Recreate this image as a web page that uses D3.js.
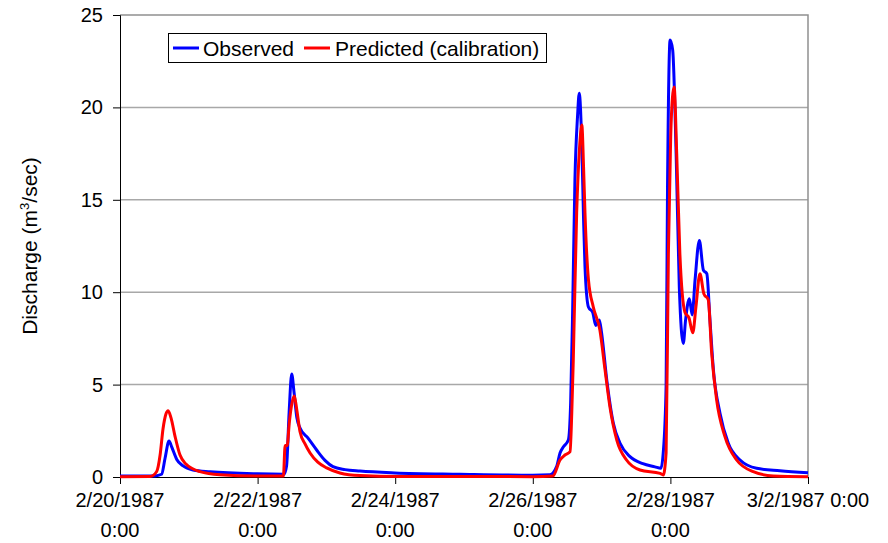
<!DOCTYPE html>
<html>
<head>
<meta charset="utf-8">
<script src="https://cdn.jsdelivr.net/npm/d3@7"></script>
<style>
  html, body { margin: 0; padding: 0; background: #fff; }
  svg { display: block; font-family: Arial, "Liberation Sans", sans-serif; }
</style>
</head>
<body>
<svg id="chart" width="888" height="543"></svg>
<script>
// Hours after 2/20/1987 0:00 and discharge (m3/sec)
const observedHours = [0, 12.2, 14.5, 15.7, 17.1, 18.1, 19.8, 22, 25.5, 31.4, 47.8, 57.2, 58.1, 59, 59.9, 60.7, 61.7, 62.8, 65.6, 68.6, 71.5, 74.3, 78.5, 83.7, 95.9, 118.6, 144, 150, 152.3, 153.5, 154.7, 156.4, 157.2, 157.9, 158.7, 159.6, 160.2, 161.1, 161.7, 162.2, 163.4, 164.9, 166, 167.2, 168, 169.8, 172.1, 174.4, 177.9, 182.4, 186.6, 188.7, 189.5, 190.5, 191, 191.9, 192.8, 194, 195.1, 196.5, 197.3, 198.6, 199.6, 200.6, 202.1, 203.5, 204.7, 205.8, 207, 209.3, 212.2, 216.3, 222.1, 230.2, 240];
const observedFlow = [0.05, 0.06, 0.15, 1.0, 1.95, 1.6, 0.95, 0.6, 0.38, 0.28, 0.17, 0.15, 0.6, 3.5, 5.57, 4.6, 3.2, 2.65, 2.1, 1.46, 0.9, 0.56, 0.4, 0.32, 0.22, 0.15, 0.1, 0.12, 0.56, 1.3, 1.64, 2.0, 4.0, 9.0, 16.1, 19.5, 20.76, 17.9, 14.0, 11.4, 9.2, 8.9, 8.2, 8.5, 7.8, 5.25, 2.9, 1.84, 1.1, 0.72, 0.55, 0.47, 1.3, 4.9, 15.7, 23.65, 23.1, 17.5, 10.3, 7.23, 8.5, 9.65, 8.77, 10.66, 12.8, 11.2, 11.0, 8.5, 5.8, 3.45, 1.82, 0.92, 0.47, 0.34, 0.23];

const predictedHours = [0, 10.5, 12.8, 14, 15, 16, 16.8, 17.8, 19.2, 20.9, 23, 27.9, 34.9, 47.8, 57, 57.6, 58.3, 59.1, 60, 60.8, 61.7, 62.8, 64.5, 66.3, 69, 72.1, 76.7, 83.7, 97.7, 144, 151, 153.5, 155.2, 157, 157.6, 158.1, 159.3, 160.3, 161.1, 161.7, 162.2, 163.4, 165.1, 167.4, 169.2, 170.9, 173.3, 176.7, 181.4, 188.4, 189.5, 190.5, 191.3, 192.1, 192.7, 193.3, 194.2, 195.3, 197.1, 198.5, 199.8, 200.9, 202.3, 203.7, 205.2, 206.4, 208.1, 211, 215.1, 220.9, 227.9, 240];
const predictedFlow = [0.02, 0.03, 0.3, 1.2, 2.6, 3.4, 3.59, 3.2, 2.2, 1.2, 0.7, 0.29, 0.12, 0.05, 0.05, 1.7, 1.7, 3.0, 4.0, 4.38, 3.6, 2.45, 1.8, 1.3, 0.8, 0.49, 0.22, 0.08, 0.03, 0.02, 0.05, 0.92, 1.19, 1.37, 3.5, 6.2, 14.3, 17.8, 19.05, 16.8, 14.3, 10.7, 9.2, 7.95, 5.8, 3.8, 2.0, 0.92, 0.38, 0.2, 0.11, 1.3, 12.1, 18.4, 20.5, 21.1, 17.5, 12.1, 8.9, 8.6, 7.8, 9.2, 11.0, 9.9, 9.6, 6.7, 4.2, 2.2, 0.92, 0.29, 0.06, 0.02];

const yTicks = [0, 5, 10, 15, 20, 25];
const xTickHours = [0, 48, 96, 144, 192, 240];
const xTickLines = [["2/20/1987", "0:00"], ["2/22/1987", "0:00"], ["2/24/1987", "0:00"],
                    ["2/26/1987", "0:00"], ["2/28/1987", "0:00"], ["3/2/1987 0:00", ""]];
const seriesNames = ["Observed", "Predicted (calibration)"];
const seriesColors = ["#0000ff", "#ff0000"];

const start = Date.UTC(1987, 1, 20, 0, 0);
const toDate = h => new Date(start + h * 3600 * 1000);

const svg = d3.select("#chart");
const plotLeft = 120, plotRight = 808, plotTop = 15, plotBottom = 477;

const x = d3.scaleUtc().domain([toDate(0), toDate(240)]).range([plotLeft, plotRight]);
const y = d3.scaleLinear().domain([0, 25]).range([plotBottom, plotTop]);

// horizontal gridlines
svg.append("g").selectAll("line").data(yTicks.filter(v => v > 0 && v < 25)).join("line")
  .attr("x1", plotLeft).attr("x2", plotRight)
  .attr("y1", d => y(d)).attr("y2", d => y(d))
  .attr("stroke", "#a8a8a8").attr("stroke-width", 1.5);

// plot frame (top and right)
svg.append("path")
  .attr("d", `M${plotLeft},${plotTop}H${plotRight}V${plotBottom}`)
  .attr("fill", "none").attr("stroke", "#909090").attr("stroke-width", 1.5);

// y axis
const yAxis = d3.axisLeft(y).tickValues(yTicks).tickSize(7).tickPadding(10);
const gy = svg.append("g").attr("transform", `translate(${plotLeft},0)`).call(yAxis);
gy.select(".domain").attr("stroke", "#000");
gy.selectAll(".tick line").attr("stroke", "#000");
gy.selectAll(".tick text").attr("font-size", 20).attr("fill", "#000")
  .attr("font-family", "Arial, 'Liberation Sans', sans-serif");

// x axis
const xAxis = d3.axisBottom(x).tickValues(xTickHours.map(toDate)).tickSize(7).tickFormat("");
const gx = svg.append("g").attr("transform", `translate(0,${plotBottom})`).call(xAxis);
gx.select(".domain").attr("stroke", "#000");
gx.selectAll(".tick line").attr("stroke", "#000");

const xLabels = svg.append("g").selectAll("text").data(xTickHours).join("text")
  .attr("x", d => x(toDate(d)))
  .attr("y", 507)
  .attr("text-anchor", "middle")
  .attr("font-size", 20).attr("fill", "#000");
xLabels.append("tspan").text((d, i) => xTickLines[i][0]);
xLabels.append("tspan").attr("x", d => x(toDate(d))).attr("dy", 30)
  .text((d, i) => xTickLines[i][1]);

// y axis title
const yTitle = svg.append("text")
  .attr("transform", "translate(37,246) rotate(-90)")
  .attr("text-anchor", "middle").attr("font-size", 21).attr("fill", "#000");
yTitle.append("tspan").text("Discharge (m");
yTitle.append("tspan").attr("font-size", 13).attr("dy", -8).text("3");
yTitle.append("tspan").attr("dy", 8).text("/sec)");

// series lines
const line = d3.line().curve(d3.curveMonotoneX)
  .x(d => x(toDate(d[0]))).y(d => y(d[1]));
const series = [
  d3.zip(observedHours, observedFlow),
  d3.zip(predictedHours, predictedFlow)
];
svg.append("g").selectAll("path").data(series).join("path")
  .attr("d", line)
  .attr("fill", "none")
  .attr("stroke", (d, i) => seriesColors[i])
  .attr("stroke-width", 3)
  .attr("stroke-linejoin", "round");

// legend
const legend = svg.append("g");
legend.append("rect").attr("x", 168.5).attr("y", 33.5).attr("width", 378).attr("height", 29)
  .attr("fill", "#fff").attr("stroke", "#000").attr("stroke-width", 1);
const legendX = [[173, 203], [304, 335]];
seriesNames.forEach((name, i) => {
  legend.append("line").attr("x1", legendX[i][0]).attr("x2", legendX[i][0] + 26)
    .attr("y1", 48).attr("y2", 48).attr("stroke", seriesColors[i]).attr("stroke-width", 3);
  legend.append("text").attr("x", legendX[i][1]).attr("y", 55.5)
    .attr("font-size", 21).attr("fill", "#000").text(name);
});
</script>
</body>
</html>
